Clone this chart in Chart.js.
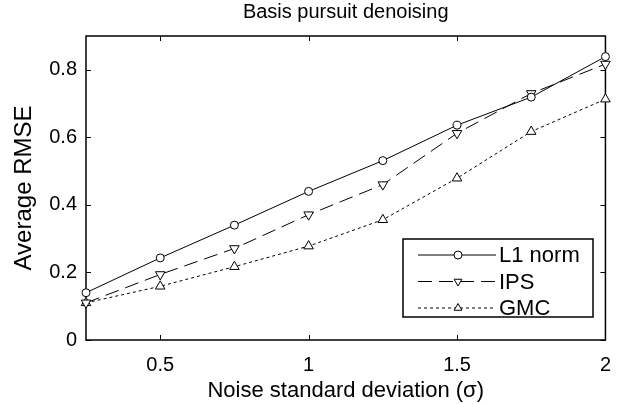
<!DOCTYPE html>
<html>
<head>
<meta charset="utf-8">
<script src="https://cdn.jsdelivr.net/npm/chart.js@4/dist/chart.umd.min.js"></script>
<style>
  body { margin: 0; background: #fff; }
  #graf { display: block; }
</style>
</head>
<body>
<canvas id="graf" width="624" height="404"></canvas>
<script>
const sigma = [0.25, 0.5, 0.75, 1, 1.25, 1.5, 1.75, 2];
const l1_norm = [0.140, 0.243, 0.340, 0.440, 0.531, 0.636, 0.719, 0.839];
const ips = [0.110, 0.194, 0.271, 0.371, 0.460, 0.612, 0.730, 0.817];
const gmc = [0.110, 0.159, 0.217, 0.278, 0.356, 0.479, 0.617, 0.713];
const x_ticks = [0.5, 1, 1.5, 2];
const y_ticks = [0, 0.2, 0.4, 0.6, 0.8];

const pismo = 'Liberation Sans, Arial, Helvetica, sans-serif';
Chart.defaults.font.family = pismo;
Chart.defaults.color = '#000';

function body(arr) {
  return arr.map((v, i) => ({ x: sigma[i], y: v }));
}

const data = {
  datasets: [
    { label: 'L1 norm', data: body(l1_norm), borderDash: [], pointStyle: 'circle', pointRadius: 4, rotation: 0 },
    { label: 'IPS', data: body(ips), borderDash: [14, 7], pointStyle: 'triangle', pointRadius: 5.5, rotation: 180 },
    { label: 'GMC', data: body(gmc), borderDash: [3, 3], pointStyle: 'triangle', pointRadius: 5.5, rotation: 0 }
  ].map(d => Object.assign({
    borderColor: '#000',
    borderWidth: 1,
    backgroundColor: '#fff',
    pointBackgroundColor: '#fff',
    pointBorderColor: '#000',
    pointBorderWidth: 1,
    pointRotation: d.rotation,
    showLine: true,
    clip: false,
    tension: 0
  }, d))
};

// ramik + vnutorne ciarky ako v matlabe
const ramik = {
  id: 'ramik',
  beforeDatasetsDraw(chart) {
    const ctx = chart.ctx;
    const a = chart.chartArea;
    const sx = chart.scales.x, sy = chart.scales.y;
    ctx.save();
    ctx.strokeStyle = '#000';
    ctx.lineWidth = 1.5;
    ctx.strokeRect(a.left, a.top, a.right - a.left, a.bottom - a.top);
    ctx.lineWidth = 1;
    ctx.beginPath();
    x_ticks.forEach(t => {
      const px = Math.round(sx.getPixelForValue(t)) + 0.5;
      ctx.moveTo(px, a.bottom); ctx.lineTo(px, a.bottom - 5);
      ctx.moveTo(px, a.top); ctx.lineTo(px, a.top + 5);
    });
    y_ticks.forEach(t => {
      const py = Math.round(sy.getPixelForValue(t)) + 0.5;
      ctx.moveTo(a.left, py); ctx.lineTo(a.left + 5, py);
      ctx.moveTo(a.right, py); ctx.lineTo(a.right - 5, py);
    });
    ctx.stroke();
    ctx.restore();
  }
};

function znacka(ctx, styl, rot, x, y, r) {
  ctx.beginPath();
  if (styl === 'circle') {
    ctx.arc(x, y, r, 0, Math.PI * 2);
  } else {
    const rad = rot * Math.PI / 180;
    for (let k = 0; k < 3; k++) {
      const ang = rad + k * 2 * Math.PI / 3;
      const px = x + Math.sin(ang) * r, py = y - Math.cos(ang) * r;
      if (k === 0) ctx.moveTo(px, py); else ctx.lineTo(px, py);
    }
    ctx.closePath();
  }
  ctx.fillStyle = '#fff';
  ctx.fill();
  ctx.stroke();
}

// legenda vnutri grafu
const legenda = {
  id: 'legenda',
  afterDraw(chart) {
    const ctx = chart.ctx;
    const L = 403, T = 239, W = 190, H = 78;
    ctx.save();
    ctx.fillStyle = '#fff';
    ctx.fillRect(L, T, W, H);
    ctx.strokeStyle = '#000';
    ctx.lineWidth = 1.5;
    ctx.strokeRect(L, T, W, H);
    ctx.font = '22px ' + pismo;
    ctx.textBaseline = 'middle';
    chart.data.datasets.forEach((d, i) => {
      const y = T + 16 + i * 26.5;
      ctx.lineWidth = 1;
      ctx.setLineDash(d.borderDash);
      ctx.beginPath();
      ctx.moveTo(L + 15, y); ctx.lineTo(L + 93, y);
      ctx.stroke();
      ctx.setLineDash([]);
      znacka(ctx, d.pointStyle, d.pointRotation, L + 55, y, d.pointStyle === 'circle' ? 4 : 4.5);
      ctx.fillStyle = '#000';
      ctx.fillText(d.label, L + 96, y + 1);
    });
    ctx.restore();
  }
};

const config = {
  type: 'scatter',
  data: data,
  options: {
    responsive: false,
    animation: false,
    layout: { padding: { left: 0, right: 18, top: 0, bottom: 0 } },
    plugins: {
      legend: { display: false },
      tooltip: { enabled: false },
      title: {
        display: true,
        fullSize: false,
        text: 'Basis pursuit denoising',
        color: '#000',
        font: { size: 20, weight: 'normal' },
        padding: { top: 0, bottom: 12 }
      }
    },
    scales: {
      x: {
        type: 'linear',
        min: 0.25,
        max: 2,
        grid: { display: false, drawTicks: false },
        border: { display: false },
        afterBuildTicks: s => { s.ticks = x_ticks.map(v => ({ value: v })); },
        afterFit: s => { s.height = 64; },
        ticks: { padding: 13, font: { size: 20 }, color: '#000', maxRotation: 0, callback: v => String(v) },
        title: { display: true, text: 'Noise standard deviation (σ)', font: { size: 22 }, color: '#000', padding: { top: 0, bottom: 0 } }
      },
      y: {
        min: 0,
        max: 0.9,
        grid: { display: false, drawTicks: false },
        border: { display: false },
        afterBuildTicks: s => { s.ticks = y_ticks.map(v => ({ value: v })); },
        afterFit: s => { s.width = 86; },
        ticks: { padding: 9, font: { size: 20 }, color: '#000', callback: v => String(v) },
        title: { display: true, text: 'Average RMSE', font: { size: 24 }, color: '#000', padding: { top: 10, bottom: 0 } }
      }
    }
  },
  plugins: [ramik, legenda]
};

const graf = document.getElementById('graf').getContext('2d');
new Chart(graf, config);
</script>
</body>
</html>
